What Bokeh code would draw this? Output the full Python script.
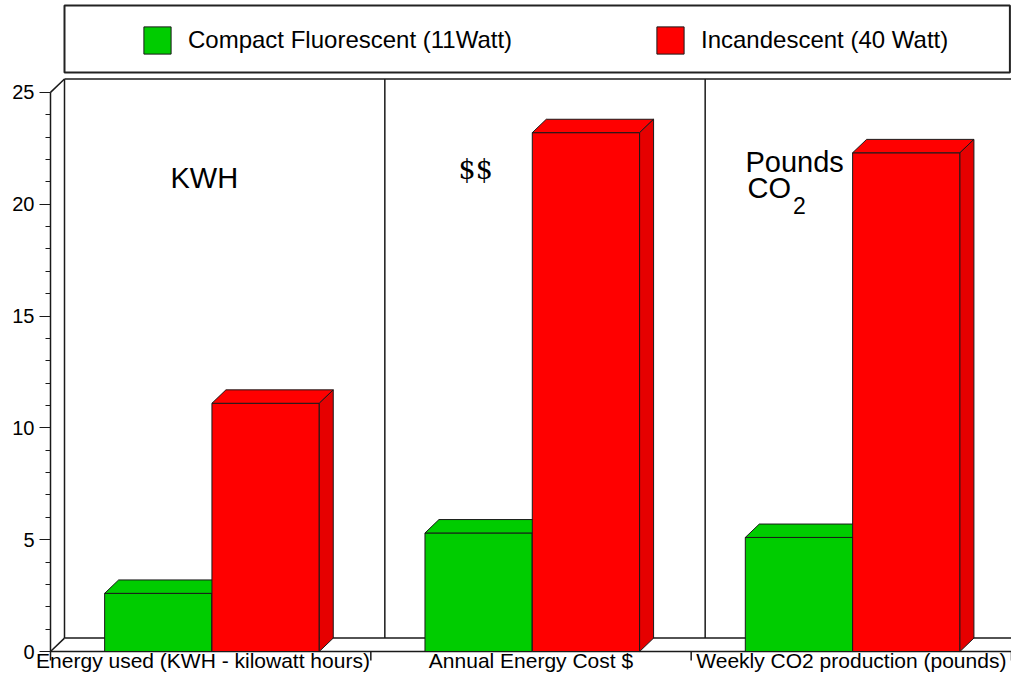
from bokeh.plotting import figure
from bokeh.models import (Range1d, SingleIntervalTicker, Legend, LegendItem,
                          BoxAnnotation, Label)
from bokeh.core.properties import value
from bokeh.embed import file_html
from bokeh.resources import INLINE

# ---------------- data ----------------
categories = ["Energy used (KWH - kilowatt hours)",
              "Annual Energy Cost $",
              "Weekly CO2 production (pounds)"]
series_names = ["Compact Fluorescent (11Watt)", "Incandescent (40 Watt)"]
cfl_values = [2.6, 5.3, 5.1]
inc_values = [11.1, 23.2, 22.3]
y_max = 25
y_interval = 5

# ---------------- layout / style ----------------
W, H = 1011, 675
X_START, X_END = -0.1561, 3.0
Y_START, Y_END = -1.073, 29.11
DX = 0.0437     # 3-D depth offset in x units
DY = 0.6        # 3-D depth offset in y units
BAR_W = 0.335
GROUP_C = 0.504
OUT = "#1a1a1a"
FONT = value("Liberation Sans")
GREEN, GREEN_SIDE = "#00CC00", "#00B400"
RED, RED_SIDE = "#FF0000", "#E60000"
CAT_LABEL_X = [0.476, 0.5, 0.5]
CAT_LABEL_Y = -0.42

n = len(categories)

p = figure(width=W, height=H, x_range=Range1d(X_START, X_END),
           y_range=Range1d(Y_START, Y_END),
           output_backend="svg", toolbar_location=None)
p.min_border = 0
p.min_border_left = 0
p.min_border_right = 0
p.min_border_top = 0
p.min_border_bottom = 0
p.outline_line_color = None
p.xgrid.visible = False
p.ygrid.visible = False
p.xaxis.visible = False
p.background_fill_color = "white"
p.border_fill_color = "white"

# ---------------- back wall and floor ----------------
wall_xs = [[i + DX, i + DX] for i in range(n + 1)]
wall_ys = [[DY, y_max + DY] for _ in range(n + 1)]
wall_xs += [[DX, X_END + 1], [DX, n + DX], [0, DX], [0, DX], [n, n + DX], [0, n]]
wall_ys += [[y_max + DY, y_max + DY], [DY, DY], [0, DY], [y_max, y_max + DY], [0, DY], [0, 0]]
p.multi_line(wall_xs, wall_ys, line_color=OUT, line_width=1.5)

# category boundary ticks below the floor edge
p.segment(x0=list(range(n + 1)), y0=[0] * (n + 1), x1=list(range(n + 1)),
          y1=[-0.40] * (n + 1), line_color=OUT, line_width=1.5)

# ---------------- bars ----------------
front_renderers = []
for k, (vals, col, side) in enumerate([(cfl_values, GREEN, GREEN_SIDE),
                                       (inc_values, RED, RED_SIDE)]):
    lefts = [i + GROUP_C - BAR_W + k * BAR_W for i in range(n)]
    rights = [l + BAR_W for l in lefts]
    fr = p.quad(left=lefts, right=rights, bottom=0, top=vals,
                fill_color=col, line_color=OUT, line_width=1)
    front_renderers.append(fr)
    top_xs = [[l, r, r + DX, l + DX] for l, r in zip(lefts, rights)]
    top_ys = [[v, v, v + DY, v + DY] for v in vals]
    p.patches(top_xs, top_ys, fill_color=col, line_color=OUT, line_width=1)
    side_xs = [[r, r + DX, r + DX, r] for r in rights]
    side_ys = [[0, DY, v + DY, v] for v in vals]
    p.patches(side_xs, side_ys, fill_color=side, line_color=OUT, line_width=1)

# ---------------- category labels (below the floor) ----------------
for i, cat in enumerate(categories):
    p.add_layout(Label(x=i + CAT_LABEL_X[i], y=CAT_LABEL_Y, text=cat,
                       text_align="center", text_baseline="alphabetic",
                       text_font="Liberation Sans", text_font_size="21px",
                       text_color="black"))

# ---------------- panel annotations ----------------
p.text(x=[0.3746, 2.1696, 2.176], y=[21.18, 21.89, 20.73],
       text=["KWH", "Pounds", "CO"], text_font=FONT, text_font_size="29px",
       text_color="black", text_baseline="alphabetic", text_align="left")
p.text(x=[2.318], y=[19.96], text=["2"], text_font=FONT, text_font_size="23px",
       text_color="black", text_baseline="alphabetic", text_align="left")
p.text(x=[1.274], y=[21.55], text=["$$"], text_font=value("DejaVu Serif"),
       text_font_size="27px", text_color="black", text_baseline="alphabetic",
       text_align="left")

# ---------------- y axis (pinned at x = 0) ----------------
p.yaxis.fixed_location = 0
p.yaxis.ticker = SingleIntervalTicker(interval=y_interval, num_minor_ticks=5)
p.yaxis.bounds = (0, y_max)
p.yaxis.major_tick_out = 11
p.yaxis.major_tick_in = 0
p.yaxis.minor_tick_out = 5
p.yaxis.minor_tick_in = 0
p.yaxis.major_label_standoff = 5
p.yaxis.major_label_text_font = "Liberation Sans"
p.yaxis.major_label_text_font_size = "20px"
p.yaxis.major_label_text_color = "black"
p.yaxis.axis_line_width = 1.5
p.yaxis.axis_line_color = OUT
p.yaxis.major_tick_line_color = OUT
p.yaxis.minor_tick_line_color = OUT

# ---------------- legend ----------------
box = BoxAnnotation(left=DX, right=2.995, bottom=25.89, top=28.89,
                    fill_color=None, fill_alpha=0, line_color="#222222",
                    line_alpha=1.0, line_width=2)
p.add_layout(box)
legend = Legend(items=[LegendItem(label=series_names[0], renderers=[front_renderers[0]]),
                       LegendItem(label=series_names[1], renderers=[front_renderers[1]])],
                orientation="horizontal", location=(140, 618), padding=10, spacing=0,
                glyph_width=34, glyph_height=34, label_standoff=14, label_width=465,
                label_text_font="Liberation Sans", label_text_font_size="24px",
                label_text_color="black", border_line_color=None,
                background_fill_alpha=0)
p.add_layout(legend)

open("out.html", "w").write(file_html(p, INLINE))
